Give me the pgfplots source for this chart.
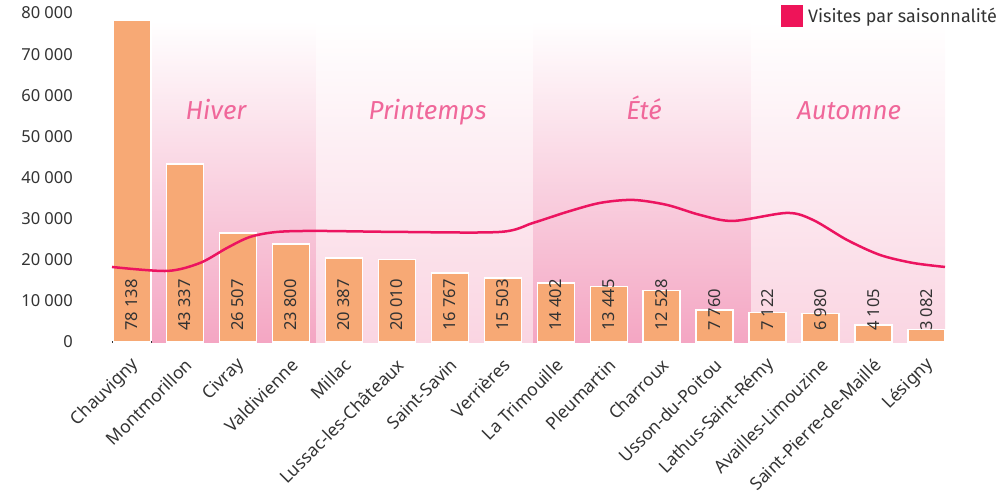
\documentclass[border=0pt]{standalone}
\usepackage{fontspec}
\setmainfont{Noto Sans}
\newfontfamily\fira{Fira Sans}
\usepackage{pgfplots}
\pgfplotsset{compat=1.18}
\definecolor{barfill}{HTML}{F7A975}
\definecolor{linepink}{HTML}{EC1460}
\definecolor{legpink}{HTML}{EE1459}
\definecolor{darkband}{HTML}{F4A6C3}
\definecolor{lightband}{HTML}{FAD5E2}
\definecolor{seasontxt}{HTML}{F0679A}
\definecolor{txt}{HTML}{333333}
\begin{document}
\begin{tikzpicture}
\path[use as bounding box] (-112bp,-152bp) rectangle (895bp,342bp);
\begin{axis}[
  at={(0,0)}, anchor=south west,
  scale only axis, width=833bp, height=329bp,
  xmin=-0.378, xmax=15.348, ymin=0, ymax=80000,
  axis x line*=bottom, axis y line*=left,
  y axis line style={draw=none},
  x axis line style={draw=txt, line width=1.5bp, -},
  major tick length=0pt,
  xtick={0,...,15},
  xticklabels={Chauvigny,Montmorillon,Civray,Valdivienne,Millac,Lussac-les-Châteaux,Saint-Savin,Verrières,La Trimouille,Pleumartin,Charroux,Usson-du-Poitou,Lathus-Saint-Rémy,Availles-Limouzine,Saint-Pierre-de-Maillé,Lésigny},
  ytick={0,10000,...,80000},
  scaled y ticks=false,
  /pgf/number format/assume math mode=true,
  yticklabel style={/pgf/number format/fixed, /pgf/number format/1000 sep={~},
    font=\fontsize{16.5bp}{19bp}\selectfont, color=txt, inner sep=0pt, anchor=east, xshift=-39bp},
  xticklabel style={font=\fontsize{17.5bp}{20bp}\selectfont, color=txt, inner sep=0pt,
    xshift=4bp, yshift=-20bp, rotate=45, anchor=east},
  legend style={at={(axis description cs:0.803,0.992)}, anchor=west, draw=none, fill=none,
    inner sep=0pt, font=\fira\fontsize{18bp}{21bp}\selectfont\color{txt}},
  legend cell align=left,
  clip=false,
]
% season bands
\fill[top color=white, bottom color=darkband] (axis cs:0.378,0) rectangle (axis cs:3.474,78138);
\fill[top color=white, bottom color=lightband] (axis cs:3.474,0) rectangle (axis cs:7.570,78138);
\fill[top color=white, bottom color=darkband] (axis cs:7.570,0) rectangle (axis cs:11.686,78138);
\fill[top color=white, bottom color=lightband] (axis cs:11.686,0) rectangle (axis cs:15.348,78138);
\node[font=\fira\itshape\fontsize{26bp}{30bp}\selectfont, color=seasontxt, anchor=base] at (axis cs:1.586,54015) {Hiver};
\node[font=\fira\itshape\fontsize{26bp}{30bp}\selectfont, color=seasontxt, anchor=base] at (axis cs:5.579,54015) {Printemps};
\node[font=\fira\itshape\fontsize{26bp}{30bp}\selectfont, color=seasontxt, anchor=base] at (axis cs:9.666,54015) {Été};
\node[font=\fira\itshape\fontsize{26bp}{30bp}\selectfont, color=seasontxt, anchor=base] at (axis cs:13.536,54015) {Automne};
% bars
\addplot[ybar, bar width=37bp, fill=barfill, draw=white, line width=1.5bp, forget plot]
coordinates {(0,78138) (1,43337) (2,26507) (3,23800) (4,20387) (5,20010) (6,16767) (7,15503)
 (8,14402) (9,13445) (10,12528) (11,7760) (12,7122) (13,6980) (14,4105) (15,3082)};
% seasonal line
\addplot[smooth, color=linepink, line width=2.5bp, mark=none,
  legend image code/.code={\fill[legpink, draw=none] (0bp,-11bp) rectangle (22bp,11bp); \path[draw=none] (22bp,0) -- (25bp,0);}]
coordinates {(-0.378,18248) (0.661,17275) (1.284,19221) (1.793,22871) (2.228,25547)
 (2.737,26764) (3.493,27007) (5.059,26764) (6.947,26764) (7.570,28954) (8.212,31630) (8.835,33820)
 (9.458,34550) (10.100,33333) (10.723,30900) (11.346,29440)
 (12.366,31387) (12.856,29684) (13.498,24818) (14.121,21168) (14.744,19221) (15.348,18248)};
\addlegendentry{Visites par saisonnalité}
% value labels
\addplot[draw=none, mark=none, forget plot, point meta=explicit,
  nodes near coords={\pgfmathprintnumber[fixed,precision=0,1000 sep={~}]{\pgfplotspointmeta}},
  every node near coord/.append style={font=\fontsize{16.5bp}{19bp}\selectfont, color=txt,
    inner sep=0pt, yshift=11bp, rotate=90, anchor=west}]
coordinates {(0,0) [78138] (1,0) [43337] (2,0) [26507] (3,0) [23800] (4,0) [20387] (5,0) [20010]
 (6,0) [16767] (7,0) [15503] (8,0) [14402] (9,0) [13445] (10,0) [12528] (11,0) [7760]
 (12,0) [7122] (13,0) [6980] (14,0) [4105] (15,0) [3082]};
\end{axis}
\end{tikzpicture}
\end{document}
